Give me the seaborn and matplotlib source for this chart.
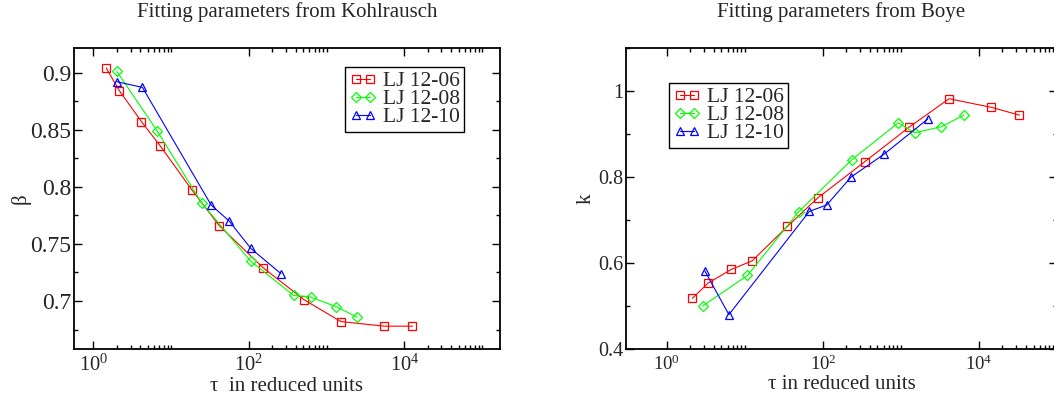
import numpy as np
import pandas as pd
import matplotlib
matplotlib.use("Agg")
import matplotlib.pyplot as plt
import seaborn as sns
from matplotlib.ticker import FixedLocator, LogFormatterMathtext, NullFormatter, MultipleLocator

# ---------------- data ----------------
series_names = ["LJ 12-06", "LJ 12-08", "LJ 12-10"]

kohl_tau_06 = [1.46, 2.16, 4.15, 7.2, 18.6, 41.5, 153, 516, 1530, 5520, 12700]
kohl_beta_06 = [0.904, 0.884, 0.857, 0.836, 0.797, 0.766, 0.729, 0.701, 0.682, 0.678, 0.678]
kohl_tau_08 = [2.0, 6.6, 24.6, 105, 376, 622, 1330, 2460]
kohl_beta_08 = [0.901, 0.849, 0.786, 0.735, 0.705, 0.7035, 0.695, 0.686]
kohl_tau_10 = [2.0, 4.27, 32.7, 55.8, 106, 258]
kohl_beta_10 = [0.892, 0.887, 0.784, 0.770, 0.746, 0.724]

boye_tau_06 = [2.13, 3.37, 6.69, 12.4, 35.1, 85.4, 347, 1277, 4140, 14400, 33000]
boye_k_06 = [0.518, 0.553, 0.585, 0.605, 0.685, 0.751, 0.836, 0.916, 0.982, 0.962, 0.944]
boye_tau_08 = [2.88, 10.8, 48.9, 234, 925, 1510, 3300, 6440]
boye_k_08 = [0.500, 0.571, 0.719, 0.840, 0.926, 0.903, 0.917, 0.944]
boye_tau_10 = [3.06, 6.25, 67, 112, 230, 607, 2210]
boye_k_10 = [0.582, 0.480, 0.720, 0.735, 0.800, 0.853, 0.935]

left_title = "Fitting parameters from Kohlrausch"
right_title = "Fitting parameters from Boye"
left_xlabel = "\u03c4  in reduced units"
right_xlabel = "\u03c4 in reduced units"
left_ylabel = "\u03b2"
right_ylabel = "k"

# ---------------- style ----------------
sns.set_theme(style="ticks")
plt.rcParams["font.family"] = ["Liberation Serif", "DejaVu Serif"]
plt.rcParams["mathtext.fontset"] = "custom"
plt.rcParams["mathtext.rm"] = "Liberation Serif"
plt.rcParams["mathtext.default"] = "regular"

colors = ["#ff0000", "#00ff00", "#0000ff"]
markers = ["s", "D", "^"]
msizes = [5.6, 4.8, 6.0]

W, H = 1054, 405
fig = plt.figure(figsize=(W / 100, H / 100), dpi=100)
fig.patch.set_facecolor("white")

axL = fig.add_axes([74 / W, 1 - 349 / H, (500 - 74) / W, (349 - 48) / H])
axR = fig.add_axes([626 / W, 1 - 349 / H, (1057 - 626) / W, (349 - 48) / H])


def draw(ax, xs, ys):
    for x, y, name, c, m, ms in zip(xs, ys, series_names, colors, markers, msizes):
        df = pd.DataFrame({"tau": x, "val": y})
        sns.lineplot(data=df, x="tau", y="val", ax=ax, color=c, marker=m,
                     markersize=ms, markeredgecolor=c, markerfacecolor="none",
                     markeredgewidth=0.9, linewidth=0.8, label=name, sort=False)


draw(axL, [kohl_tau_06, kohl_tau_08, kohl_tau_10], [kohl_beta_06, kohl_beta_08, kohl_beta_10])
draw(axR, [boye_tau_06, boye_tau_08, boye_tau_10], [boye_k_06, boye_k_08, boye_k_10])


def style_axes(ax, xlim, ylim, ymaj, ymin, ytick_fs, xtick_fs):
    ax.set_xscale("log")
    ax.set_xlim(*xlim)
    ax.set_ylim(*ylim)
    ax.xaxis.set_major_locator(FixedLocator([1, 1e2, 1e4]))
    ax.xaxis.set_major_formatter(LogFormatterMathtext())
    minors = [k * 10.0 ** d for d in (0, 2, 4) for k in range(2, 11)]
    ax.xaxis.set_minor_locator(FixedLocator(minors))
    ax.xaxis.set_minor_formatter(NullFormatter())
    ax.yaxis.set_major_locator(MultipleLocator(ymaj))
    ax.yaxis.set_minor_locator(MultipleLocator(ymin))
    ax.tick_params(which="both", direction="in", top=True, right=True, color="black",
                   width=1.0)
    ax.tick_params(which="major", length=5.8)
    ax.tick_params(which="minor", length=2.9)
    ax.tick_params(axis="y", which="major", labelsize=ytick_fs, pad=2)
    ax.tick_params(axis="x", which="major", labelsize=xtick_fs, pad=4)
    for s in ax.spines.values():
        s.set_visible(True)
        s.set_color("black")
        s.set_linewidth(1.3)
    ax.set_facecolor("white")
    ax.grid(False)


style_axes(axL, (0.5623, 1.7e5), (0.658, 0.9215), 0.05, 0.025, 17, 14.8)
style_axes(axR, (0.3, 1.0e5), (0.4, 1.1), 0.2, 0.1, 14.5, 13.5)
axL.yaxis.set_major_formatter(matplotlib.ticker.FuncFormatter(lambda v, p: f"{v:g}"))
axR.yaxis.set_major_formatter(matplotlib.ticker.FuncFormatter(lambda v, p: f"{v:g}"))

axL.set_xlabel(left_xlabel, fontsize=15, labelpad=1)
axR.set_xlabel(right_xlabel, fontsize=15, labelpad=1)
axL.set_ylabel(left_ylabel, fontsize=15, labelpad=0)
axR.set_ylabel(right_ylabel, fontsize=15, labelpad=2)

fig.text((74 + 500) / 2 / W, 1 - 17 / H, left_title, ha="center", va="baseline", fontsize=15)
fig.text((626 + 1057) / 2 / W, 1 - 17 / H, right_title, ha="center", va="baseline", fontsize=15)

for ax, (lx, ly) in ((axL, (345, 67)), (axR, (669, 83))):
    leg = ax.legend(loc="upper left", bbox_to_anchor=(lx / W, 1 - ly / H),
                    bbox_transform=fig.transFigure, fontsize=15.5, numpoints=2,
                    handlelength=1.25, handletextpad=0.3, labelspacing=-0.1,
                    borderpad=0.2, borderaxespad=0, frameon=True, fancybox=False,
                    framealpha=1, edgecolor="black", facecolor="white")
    leg.get_frame().set_linewidth(1.0)

fig.savefig("out.png", dpi=100, facecolor="white")
